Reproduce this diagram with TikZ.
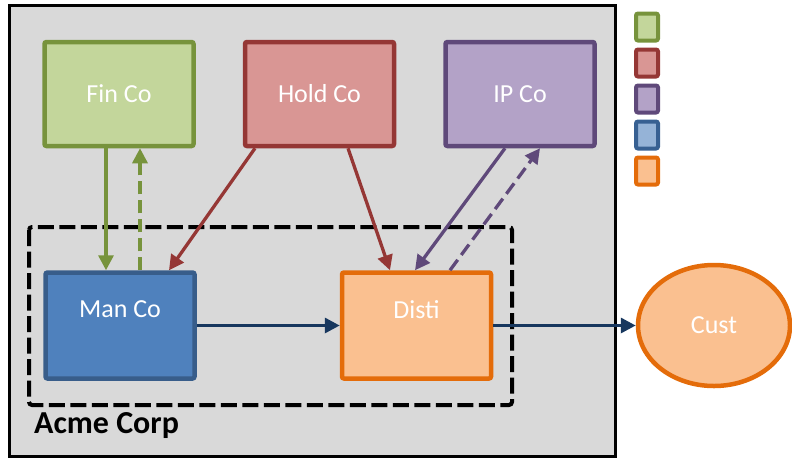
\documentclass[tikz,border=0pt]{standalone}
\usepackage{fontspec}
\setmainfont{Carlito}
\usepackage{xcolor}
\usepackage{tikz}
\usetikzlibrary{arrows.meta}
\usetikzlibrary{positioning}
\usetikzlibrary{shapes.geometric}
\definecolor{finline}{HTML}{77933C}
\definecolor{finfill}{HTML}{C3D69B}
\definecolor{holdline}{HTML}{953735}
\definecolor{holdfill}{HTML}{D99694}
\definecolor{ipline}{HTML}{5F497A}
\definecolor{ipfill}{HTML}{B3A2C7}
\definecolor{manline}{HTML}{385D8A}
\definecolor{manfill}{HTML}{4F81BD}
\definecolor{legline}{HTML}{376092}
\definecolor{legfill}{HTML}{95B3D7}
\definecolor{distiline}{HTML}{E46C0A}
\definecolor{distifill}{HTML}{FAC090}
\definecolor{flowblue}{HTML}{17375E}
\definecolor{acmegray}{HTML}{D9D9D9}
\tikzstyle{block}    = [rectangle, draw, line width=4.5pt, rounded corners=2pt, minimum width=149pt, minimum height=104pt, inner sep=0pt, text=white, font=\fontsize{26}{30}\selectfont]
\tikzstyle{uptext}   = [text depth=32pt]
\tikzstyle{swatch}   = [rectangle, draw, line width=4pt, rounded corners=2pt, minimum width=22pt, minimum height=27pt]
\tikzstyle{line}     = [draw, line width=3.3pt, -{Triangle[length=15pt,width=15pt]}]
\tikzstyle{backline} = [line, dash pattern=on 13pt off 6pt]

\begin{document}
\begin{tikzpicture}[x=1pt, y=-1pt]
	\useasboundingbox (0,0) rectangle (792,459);
	% company frame and the dashed operating group
	\draw [fill=acmegray, line width=3pt] (9.5,5) rectangle (615.5,456.5);
	\draw [line width=4pt, dash pattern=on 16pt off 5.5pt, rounded corners=3pt] (29,227) rectangle (512,405);
	\node [anchor=base west, inner sep=0pt, font=\bfseries\fontsize{32}{36}\selectfont] (acme) at (34,433) {Acme Corp};
	% entities
	\node [block, draw=finline, fill=finfill] (fin) at (119,94) {Fin Co};
	\node [block, draw=holdline, fill=holdfill, right of=fin, node distance=200.5pt] (hold) {Hold Co};
	\node [block, draw=ipline, fill=ipfill, right of=hold, node distance=200.5pt] (ip) {IP Co};
	\node [block, uptext, draw=manline, fill=manfill, minimum height=106pt] (man) at (120,325.5) {Man Co};
	\node [block, uptext, draw=distiline, fill=distifill, minimum height=106pt, right of=man, node distance=296.5pt] (disti) {Disti};
	\node [ellipse, draw=distiline, fill=distifill, line width=4.5pt, minimum width=152pt, minimum height=121pt, inner sep=0pt, text=white, font=\fontsize{26}{30}\selectfont] (cust) at (714,325.5) {Cust};
	% legend swatches
	\foreach \c [count=\i] in {fin,hold,ip,leg,disti}
		\node [swatch, draw=\c line, fill=\c fill] (sw\i) at (647,{27+36*(\i-1)}) {};
	% flows
	\path [line, finline] ([xshift=-13pt]fin.south) -- ([xshift=-14pt]man.north);
	\path [backline, finline] ([xshift=20pt]man.north) -- ([xshift=21pt]fin.south);
	\path [line, holdline] ([xshift=-64.5pt]hold.south) -- ([xshift=49pt]man.north);
	\path [line, holdline] ([xshift=28.5pt]hold.south) -- ([xshift=-26.5pt]disti.north);
	\path [line, ipline] ([xshift=-15pt]ip.south) -- ([xshift=-1.5pt]disti.north);
	\path [backline, ipline] ([xshift=33.5pt]disti.north) -- ([xshift=20pt]ip.south);
	\path [line, flowblue] (man.east) -- (disti.west);
	\path [line, flowblue] (disti.east) -- (cust.west);
\end{tikzpicture}
\end{document}
